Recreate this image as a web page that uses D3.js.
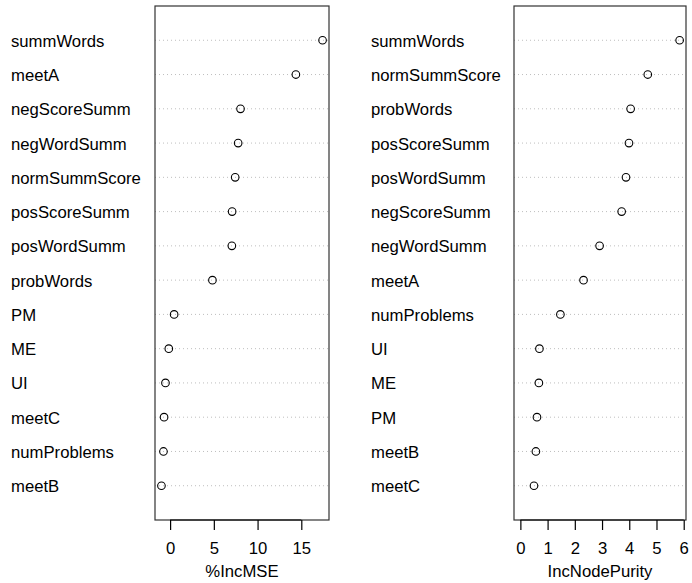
<!DOCTYPE html>
<html>
<head>
<meta charset="utf-8">
<script src="https://cdn.jsdelivr.net/npm/d3@7"></script>
<style>
  body { margin: 0; background: #fff; }
  svg { display: block; font-family: "Liberation Sans", Arial, sans-serif; }
</style>
</head>
<body>
<div id="chart"></div>
<script>
// variable importance, top row first
const mseVars = ["summWords", "meetA", "negScoreSumm", "negWordSumm", "normSummScore",
  "posScoreSumm", "posWordSumm", "probWords", "PM", "ME", "UI", "meetC", "numProblems", "meetB"];
const mseVals = [17.43, 14.38, 8.05, 7.78, 7.44, 7.09, 7.06, 4.84, 0.46, -0.15, -0.53, -0.69, -0.76, -0.99];

const purityVars = ["summWords", "normSummScore", "probWords", "posScoreSumm", "posWordSumm",
  "negScoreSumm", "negWordSumm", "meetA", "numProblems", "UI", "ME", "PM", "meetB", "meetC"];
const purityVals = [5.85, 4.68, 4.05, 3.99, 3.88, 3.72, 2.91, 2.32, 1.47, 0.70, 0.68, 0.61, 0.57, 0.50];

const mseTicks = [0, 5, 10, 15];
const purityTicks = [0, 1, 2, 3, 4, 5, 6];

const width = 692, height = 583;
const plotTop = 6, plotBottom = 520;
const fontSize = 16.7;

const svg = d3.select("#chart").append("svg")
  .attr("width", width)
  .attr("height", height);

// R style extendrange (4% each side)
function extend([a, b]) {
  const d = (b - a) * 0.04;
  return [a - d, b + d];
}

function panel({ vars, vals, ticks, title, labelX, left, right, xmin }) {
  const n = vars.length;
  const x = d3.scaleLinear()
    .domain(extend([xmin === undefined ? d3.min(vals) : xmin, d3.max(vals)]))
    .range([left, right]);
  const y = d3.scaleLinear().domain([0, n + 1]).range([plotBottom, plotTop]);
  const rowY = (i) => y(n - i);

  const g = svg.append("g");

  g.selectAll("line.grid")
    .data(vars)
    .join("line")
    .attr("class", "grid")
    .attr("x1", left)
    .attr("x2", right)
    .attr("y1", (d, i) => rowY(i))
    .attr("y2", (d, i) => rowY(i))
    .attr("stroke", "#bebebe")
    .attr("stroke-width", 1)
    .attr("stroke-dasharray", "1 3");

  g.selectAll("circle")
    .data(vals)
    .join("circle")
    .attr("cx", (d) => x(d))
    .attr("cy", (d, i) => rowY(i))
    .attr("r", 3.8)
    .attr("fill", "none")
    .attr("stroke", "#000")
    .attr("stroke-width", 1.1);

  g.selectAll("text.lab")
    .data(vars)
    .join("text")
    .attr("class", "lab")
    .attr("x", labelX)
    .attr("y", (d, i) => rowY(i) + 6.5)
    .attr("font-size", fontSize)
    .attr("fill", "#000")
    .text((d) => d);

  g.append("rect")
    .attr("x", left)
    .attr("y", plotTop)
    .attr("width", right - left)
    .attr("height", plotBottom - plotTop)
    .attr("fill", "none")
    .attr("stroke", "#333")
    .attr("stroke-width", 1.2);

  g.append("g")
    .attr("transform", `translate(0,${plotBottom})`)
    .call(d3.axisBottom(x).tickValues(ticks).tickSize(10).tickPadding(12).tickFormat(d3.format("d")))
    .call((a) => a.select(".domain").remove())
    .call((a) => a.append("line")
      .attr("x1", x(ticks[0]))
      .attr("x2", x(ticks[ticks.length - 1]))
      .attr("stroke", "#000")
      .attr("stroke-width", 1.2))
    .call((a) => a.selectAll(".tick line").attr("stroke", "#000").attr("stroke-width", 1.2))
    .call((a) => a.selectAll(".tick text")
      .attr("fill", "#000")
      .attr("font-size", fontSize)
      .attr("font-family", null))
    .attr("font-size", null)
    .attr("font-family", null);

  g.append("text")
    .attr("x", (left + right) / 2)
    .attr("y", 577)
    .attr("text-anchor", "middle")
    .attr("font-size", fontSize)
    .attr("fill", "#000")
    .text(title);
}

panel({ vars: mseVars, vals: mseVals, ticks: mseTicks, title: "%IncMSE",
  labelX: 11, left: 155, right: 329 });
panel({ vars: purityVars, vals: purityVals, ticks: purityTicks, title: "IncNodePurity",
  labelX: 371, left: 514, right: 686, xmin: 0 });
</script>
</body>
</html>
